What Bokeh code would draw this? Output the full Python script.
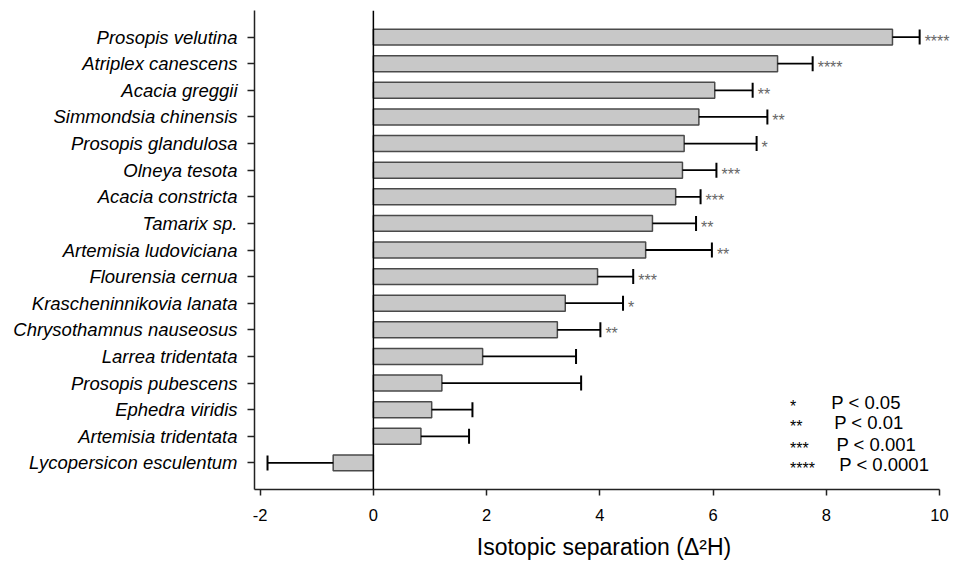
import math
from bokeh.plotting import figure
from bokeh.models import (ColumnDataSource, Range1d, Label, Span, FixedTicker)
from bokeh.embed import file_html
from bokeh.resources import INLINE

species = ["Prosopis velutina", "Atriplex canescens", "Acacia greggii",
           "Simmondsia chinensis", "Prosopis glandulosa", "Olneya tesota",
           "Acacia constricta", "Tamarix sp.", "Artemisia ludoviciana",
           "Flourensia cernua", "Krascheninnikovia lanata",
           "Chrysothamnus nauseosus", "Larrea tridentata", "Prosopis pubescens",
           "Ephedra viridis", "Artemisia tridentata", "Lycopersicon esculentum"]
separation = [9.17, 7.14, 6.03, 5.75, 5.49, 5.46, 5.34, 4.93, 4.81, 3.96,
              3.39, 3.25, 1.93, 1.21, 1.03, 0.84, -0.71]
error = [0.48, 0.62, 0.67, 1.21, 1.28, 0.60, 0.44, 0.77, 1.17, 0.63,
         1.02, 0.76, 1.65, 2.46, 0.72, 0.85, 1.16]
significance = ["****", "****", "**", "**", "*", "***", "***", "**", "**",
                "***", "*", "**", "", "", "", "", ""]
x_ticks = [-2, 0, 2, 4, 6, 8, 10]
x_tick_labels = ["-2", "0", "2", "4", "6", "8", "10"]
legend_stars = ["*", "**", "***", "****"]
legend_text = ["P < 0.05", "P < 0.01", "P < 0.001", "P < 0.0001"]

n = len(species)
row = [n - 1 - i for i in range(n)]          # top row is the first species
err_end = [v + (e if v >= 0 else -e) for v, e in zip(separation, error)]

src = ColumnDataSource(dict(row=row, species=species, sep=separation,
                            err_end=err_end, sig=significance))

FONT = "Liberation Sans"

p = figure(width=953, height=566, output_backend="svg", toolbar_location=None,
           x_range=Range1d(-2.1, 10.248), y_range=Range1d(-1, n),
           min_border_left=254, min_border_right=0, min_border_top=10,
           min_border_bottom=77)
p.outline_line_color = None
p.background_fill_color = "white"
p.border_fill_color = "white"
p.xgrid.visible = False
p.ygrid.visible = False

p.hbar(y="row", left=0, right="sep", height=0.6, source=src,
       fill_color="#c8c8c8", line_color="#4a4a4a", line_width=1.5)
p.segment(x0="sep", y0="row", x1="err_end", y1="row", source=src,
          line_color="black", line_width=1.8)
p.scatter(x="err_end", y="row", source=src, marker="dash", size=15,
          angle=math.pi / 2, line_color="black", line_width=2)

p.add_layout(Span(location=0, dimension="height", line_color="black",
                  line_width=1.5))

# significance stars beside each error bar
for xe, r, s in zip(err_end, row, significance):
    if s:
        p.add_layout(Label(x=xe, y=r, text=s, x_offset=5, y_offset=-4,
                           text_baseline="middle", text_align="left",
                           text_color="#666666", text_font=FONT,
                           text_font_size="16px"))

# x axis
xa = p.xaxis[0]
xa.bounds = (-2.1, 10)
xa.ticker = FixedTicker(ticks=x_ticks)
xa.major_label_overrides = {t: l for t, l in zip(x_ticks, x_tick_labels)}
xa.minor_tick_line_color = None
xa.major_tick_in = 0
xa.major_tick_out = 6
xa.axis_line_color = "#222222"
xa.axis_line_width = 1.5
xa.major_tick_line_color = "#222222"
xa.major_tick_line_width = 1.5
xa.major_label_text_font = FONT
xa.major_label_text_font_size = "16.5px"
xa.major_label_text_color = "black"
xa.major_label_standoff = 13
xa.axis_label = "Isotopic separation (Δ²H)"
xa.axis_label_text_font = FONT
xa.axis_label_text_font_size = "23px"
xa.axis_label_text_font_style = "normal"
xa.axis_label_text_color = "black"
xa.axis_label_standoff = 10

# y axis
ya = p.yaxis[0]
ya.ticker = FixedTicker(ticks=row)
ya.minor_tick_line_color = None
ya.major_tick_in = 0
ya.major_tick_out = 7
ya.axis_line_color = "#222222"
ya.axis_line_width = 1.5
ya.major_tick_line_color = "#222222"
ya.major_tick_line_width = 1.5
ya.major_label_text_font = FONT
ya.major_label_text_font_size = "18.5px"
ya.major_label_text_font_style = "italic"
ya.major_label_text_color = "black"
ya.major_label_standoff = 10
ya.major_label_overrides = {r: s for r, s in zip(row, species)}

# significance key
legend_y = [2.27, 1.5, 0.7, -0.05]
legend_tx = [8.09, 8.14, 8.18, 8.23]
for s, t, yy, tx in zip(legend_stars, legend_text, legend_y, legend_tx):
    p.add_layout(Label(x=7.36, y=yy, text=s,
                       text_font=FONT, text_font_size="16px",
                       text_baseline="middle", text_color="black",
                       y_offset=-4))
    p.add_layout(Label(x=tx, y=yy, text=t,
                       text_font=FONT, text_font_size="18.5px",
                       text_baseline="middle", text_color="black"))

open("out.html", "w").write(file_html(p, INLINE))
